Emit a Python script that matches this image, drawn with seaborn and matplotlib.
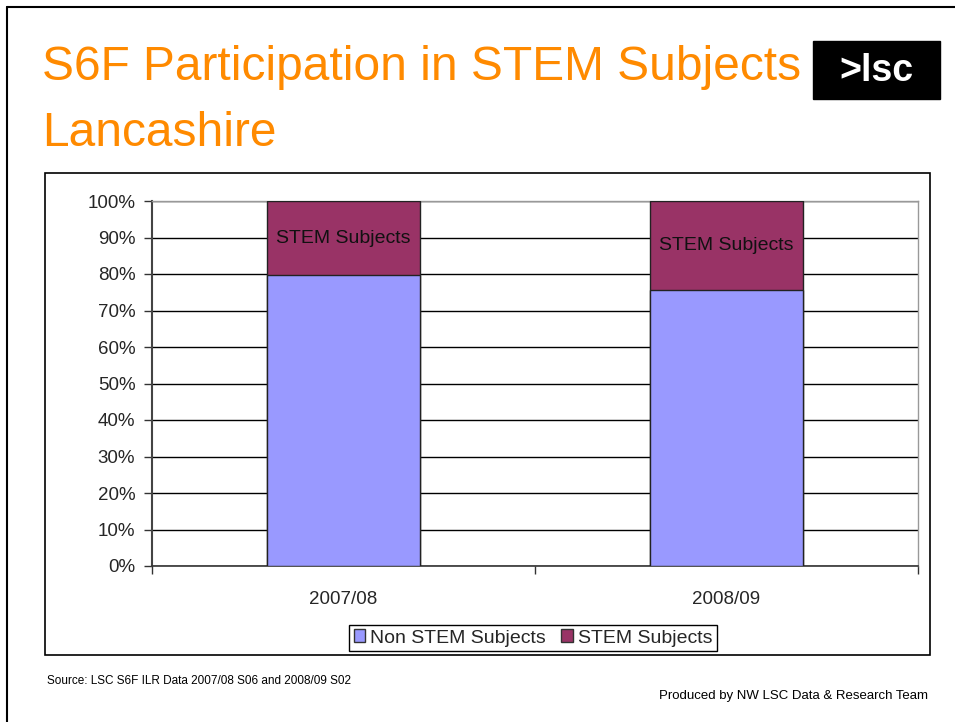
import numpy as np
import pandas as pd
import matplotlib
matplotlib.use("Agg")
import matplotlib.pyplot as plt
import seaborn as sns
from matplotlib.patches import Rectangle, Patch
from matplotlib.lines import Line2D

# data
years = ["2007/08", "2008/09"]
non_stem = [79.7, 75.6]
stem = [20.3, 24.4]
series_names = ["Non STEM Subjects", "STEM Subjects"]
y_ticks = [0, 10, 20, 30, 40, 50, 60, 70, 80, 90, 100]

sns.set_theme(style="white")
plt.rcParams["font.family"] = ["Liberation Sans", "DejaVu Sans"]

NON_COL = "#9999FF"
STEM_COL = "#993366"
ORANGE = "#FF8A00"

df = pd.DataFrame({"year": years, "non_stem": non_stem, "stem": stem})
df["total"] = df["non_stem"] + df["stem"]

fig = plt.figure(figsize=(9.55, 7.22), dpi=100)

# outer slide frame and chart frame
fig.add_artist(Line2D([7 / 955, 7 / 955], [0, 1 - 7 / 722], color="black", lw=1.5))
fig.add_artist(Line2D([7 / 955, 1], [1 - 7 / 722, 1 - 7 / 722], color="black", lw=1.5))
fig.add_artist(Rectangle((45 / 955, 1 - 655 / 722), 885 / 955, 482 / 722,
                         fill=False, edgecolor="black", lw=1.2, transform=fig.transFigure))

ax = fig.add_axes([152 / 955, 1 - 566 / 722, 766 / 955, 365 / 722])

sns.barplot(data=df, x="year", y="total", color=STEM_COL, width=0.4,
            edgecolor="#222222", linewidth=1, saturation=1, ax=ax, zorder=3)
sns.barplot(data=df, x="year", y="non_stem", color=NON_COL, width=0.4,
            edgecolor="#222222", linewidth=1, saturation=1, ax=ax, zorder=3)

# labels inside the STEM segments
for i, row in df.iterrows():
    ax.text(i, row["non_stem"] + row["stem"] / 2, "STEM Subjects", ha="center", va="center",
            fontsize=14, color="#111111", zorder=5)

ax.set_xlim(-0.5, 1.5)
ax.set_ylim(0, 100)
ax.set_yticks(y_ticks)
ax.set_yticklabels([f"{v}%" for v in y_ticks], fontsize=13.5)
ax.set_xticks([0, 1])
ax.set_xticklabels(years, fontsize=13.5)
ax.set_xticks([-0.5, 0.5, 1.5], minor=True)
ax.set_xlabel("")
ax.set_ylabel("")

ax.yaxis.grid(True, color="black", lw=1)
ax.set_axisbelow(True)
ax.tick_params(axis="y", which="major", left=True, length=6, width=1, color="#333333", pad=6)
ax.tick_params(axis="x", which="major", bottom=False, pad=12)
ax.tick_params(axis="x", which="minor", bottom=True, length=6, width=1, color="#333333")

for side in ["top", "right"]:
    ax.spines[side].set_color("#999999")
    ax.spines[side].set_linewidth(1)
ax.spines["left"].set_color("#444444")
ax.spines["left"].set_linewidth(1.5)
ax.spines["bottom"].set_color("#333333")
ax.spines["bottom"].set_linewidth(1.2)

# legend
handles = [Patch(facecolor=NON_COL, edgecolor="#333333", label=series_names[0]),
           Patch(facecolor=STEM_COL, edgecolor="#333333", label=series_names[1])]
fig.legend(handles=handles, loc="center", bbox_to_anchor=(533 / 955, 1 - 638 / 722),
           ncol=2, fontsize=14, frameon=True, fancybox=False, edgecolor="black",
           handlelength=0.6, handleheight=0.6, handletextpad=0.25, columnspacing=0.8,
           borderpad=0.25, framealpha=1)

# title
fig.text(42 / 955, 1 - 67 / 722, "S6F Participation in STEM Subjects", color=ORANGE,
         fontsize=34.5, va="center", ha="left")
fig.text(42 / 955, 1 - 133 / 722, "Lancashire", color=ORANGE,
         fontsize=34.5, va="center", ha="left")

# logo
fig.add_artist(Rectangle((813 / 955, 1 - 99 / 722), 127 / 955, 58 / 722,
                         facecolor="black", edgecolor="black", transform=fig.transFigure))
fig.text(876 / 955, 1 - 71 / 722, ">lsc", color="white", fontsize=27, fontweight="bold",
         ha="center", va="center")

# footers
fig.text(47 / 955, 1 - 681 / 722, "Source: LSC S6F ILR Data 2007/08 S06 and 2008/09 S02",
         fontsize=8.5, ha="left", va="center", color="black")
fig.text(928 / 955, 1 - 696 / 722, "Produced by NW LSC Data & Research Team",
         fontsize=9.5, ha="right", va="center", color="black")

fig.savefig("out.png", dpi=100)
